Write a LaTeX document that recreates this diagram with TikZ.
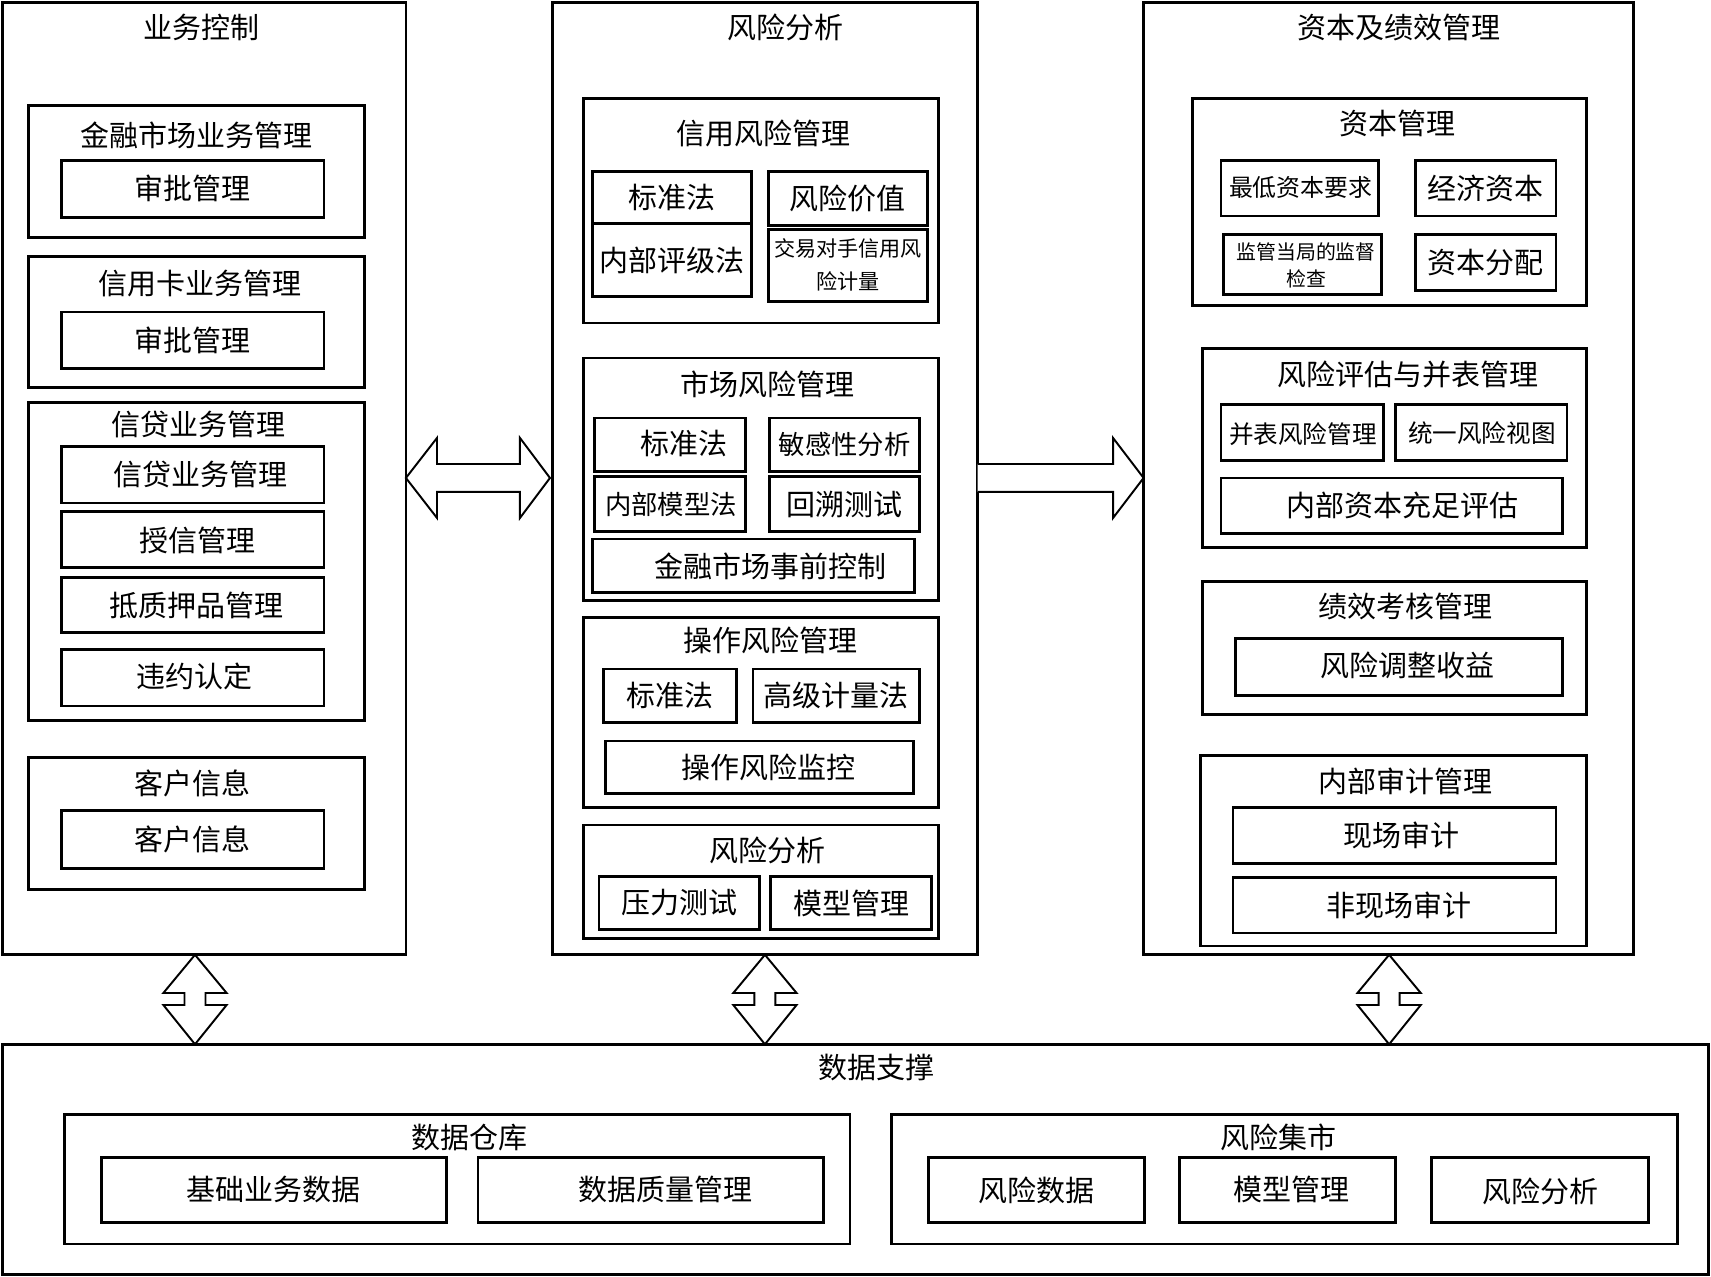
\documentclass[tikz,border=0pt]{standalone}
\usepackage{fontspec}
\setmainfont{Noto Sans CJK SC}
\tikzset{
  boxline/.style={draw=black, line width=1.6pt},
  txt/.style={inner sep=0pt, font=\fontsize{16.5}{18}\selectfont},
  small/.style={inner sep=0pt, align=center, font=\fontsize{12}{18.6}\selectfont},
  blockarrow/.style={draw=black, fill=white, line width=1.1pt, line join=miter},
}
% #1 name, #2 x1, #3 y1, #4 x2, #5 y2, #6 text
\newcommand\ibox[6]{\draw[boxline] (#2,#3) rectangle (#4,#5);
  \node[txt] (#1) at ({(#2+#4)/2},{(#3+#5)/2}) {#6};}
\newcommand\gbox[4]{\draw[boxline] (#1,#2) rectangle (#3,#4);}
\begin{document}
\begin{tikzpicture}[x=0.021824cm, y=-0.021824cm]
\useasboundingbox (0,0) rectangle (1568,1170);
\fill[white] (0,0) rectangle (1568,1170);

% ---------- outer columns ----------
\gbox{2}{2}{372}{875}
\gbox{506}{2}{896}{875}
\gbox{1048}{2}{1497}{875}
\gbox{2}{957}{1566}{1168}
\node[txt] (t1) at (185,25) {业务控制};
\node[txt] (t2) at (720,25) {风险分析};
\node[txt] (t3) at (1282,25) {资本及绩效管理};
\node[txt] (t4) at (803,978) {数据支撑};

% ---------- left column ----------
\gbox{26}{97}{334}{218}
\node[txt] (l1) at (180,124) {金融市场业务管理};
\ibox{l1a}{56}{147}{297}{199}{审批管理}
\gbox{26}{235}{334}{355}
\node[txt] (l2) at (183,260) {信用卡业务管理};
\ibox{l2a}{56}{286}{297}{338}{审批管理}
\gbox{26}{369}{334}{660}
\node[txt] (l3) at (182,389) {信贷业务管理};
\draw[boxline] (56,409) rectangle (297,461); \node[txt] (l3a) at (184,435) {信贷业务管理};
\draw[boxline] (56,469) rectangle (297,520); \node[txt] (l3b) at (181,495) {授信管理};
\draw[boxline] (56,529) rectangle (297,580); \node[txt] (l3c) at (180,555) {抵质押品管理};
\draw[boxline] (56,595) rectangle (297,647); \node[txt] (l3d) at (178,620) {违约认定};
\gbox{26}{694}{334}{815}
\node[txt] (l4) at (176,718) {客户信息};
\ibox{l4a}{56}{743}{297}{796}{客户信息}

% ---------- middle column ----------
\gbox{535}{90}{860}{296}
\node[txt] (m1) at (700,122) {信用风险管理};
\ibox{m1a}{543}{157}{689}{205}{标准法}
\ibox{m1b}{543}{205}{689}{272}{内部评级法}
\ibox{m1c}{704}{157}{850}{207}{风险价值}
\draw[boxline] (704,210) rectangle (850,276);
\node[small] (m1d) at (777,243) {交易对手信用风\\险计量};
\gbox{535}{328}{860}{550}
\node[txt] (m2) at (703,352) {市场风险管理};
\draw[boxline] (545,383) rectangle (683,432); \node[txt] (m2a) at (627,406) {标准法};
\draw[boxline] (705,383) rectangle (843,432);
\node[txt, font=\fontsize{15}{17}\selectfont] (m2b) at (774,407) {敏感性分析};
\draw[boxline] (545,437) rectangle (683,487);
\node[txt, font=\fontsize{15}{17}\selectfont] (m2c) at (615,462) {内部模型法};
\ibox{m2d}{705}{437}{843}{487}{回溯测试}
\draw[boxline] (543,494) rectangle (838,543); \node[txt] (m2e) at (706,519) {金融市场事前控制};
\gbox{535}{566}{860}{740}
\node[txt] (m3) at (706,587) {操作风险管理};
\ibox{m3a}{553}{613}{675}{662}{标准法}
\ibox{m3b}{690}{613}{843}{662}{高级计量法}
\draw[boxline] (555,679) rectangle (837,727); \node[txt] (m3c) at (704,703) {操作风险监控};
\gbox{535}{756}{860}{860}
\node[txt] (m4) at (703,779) {风险分析};
\ibox{m4a}{549}{803}{696}{852}{压力测试}
\ibox{m4b}{706}{803}{854}{852}{模型管理}

% ---------- right column ----------
\gbox{1093}{90}{1454}{280}
\node[txt] (r1) at (1281,113) {资本管理};
\draw[boxline] (1119,147) rectangle (1263,198);
\node[txt, font=\fontsize{13.6}{16}\selectfont] (r1a) at (1192,172) {最低资本要求};
\ibox{r1b}{1297}{147}{1426}{198}{经济资本}
\draw[boxline] (1121,215) rectangle (1266,270);
\node[small, font=\fontsize{11.3}{15.5}\selectfont] (r1c) at (1197,243) {监管当局的监督\\检查};
\ibox{r1d}{1297}{215}{1426}{266}{资本分配}
\gbox{1102}{319}{1454}{502}
\node[txt] (r2) at (1290,343) {风险评估与并表管理};
\draw[boxline] (1119,371) rectangle (1268,422);
\node[txt, font=\fontsize{14}{16}\selectfont] (r2a) at (1194,398) {并表风险管理};
\draw[boxline] (1279,371) rectangle (1436,422);
\node[txt, font=\fontsize{14}{16}\selectfont] (r2b) at (1358,397) {统一风险视图};
\draw[boxline] (1119,438) rectangle (1432,489); \node[txt] (r2c) at (1285,463) {内部资本充足评估};
\gbox{1102}{533}{1454}{655}
\node[txt] (r3) at (1288,556) {绩效考核管理};
\draw[boxline] (1132,585) rectangle (1432,637); \node[txt] (r3a) at (1290,610) {风险调整收益};
\gbox{1100}{692}{1454}{867}
\node[txt] (r4) at (1288,716) {内部审计管理};
\draw[boxline] (1130,740) rectangle (1426,791); \node[txt] (r4a) at (1284,766) {现场审计};
\draw[boxline] (1130,804) rectangle (1426,855); \node[txt] (r4b) at (1282,830) {非现场审计};

% ---------- bottom ----------
\gbox{59}{1021}{779}{1140}
\node[txt] (b1) at (430,1042) {数据仓库};
\ibox{b1a}{93}{1061}{409}{1120}{基础业务数据}
\draw[boxline] (438,1061) rectangle (755,1120); \node[txt] (b1b) at (610,1090) {数据质量管理};
\gbox{817}{1021}{1537}{1140}
\node[txt] (b2) at (1172,1042) {风险集市};
\ibox{b2a}{851}{1061}{1049}{1120}{风险数据}
\draw[boxline] (1081,1061) rectangle (1279,1120); \node[txt] (b2b) at (1184,1090) {模型管理};
\draw[boxline] (1312,1061) rectangle (1511,1120); \node[txt] (b2c) at (1412,1092) {风险分析};

% ---------- block arrows ----------
\coordinate (hL) at (372,438);
\coordinate (hR) at (504,438);
\draw[blockarrow] (hL) -- ++(28.5,-36.7) -- ++(0,23.9) -- ++(76,0) -- ++(0,-23.9)
  -- (hR) -- ++(-27.5,36.7) -- ++(0,-23.9) -- ++(-76,0) -- ++(0,23.9) -- cycle;

\coordinate (aT) at (896,438);
\coordinate (aH) at (1048,438);
\draw[blockarrow] (aT) ++(0,-12.8) -- ++(124,0) -- ++(0,-23.9) -- (aH)
  -- ++(-28,36.7) -- ++(0,-23.9) -- ++(-124,0);

\foreach \cx/\nm in {178.7/vA, 701/vB, 1273/vC}{
  \coordinate (\nm) at (\cx,875);
  \draw[blockarrow] (\nm) -- ++(-29,35) -- ++(19.4,0) -- ++(0,11) -- ++(-19.4,0)
    -- ++(29,36) -- ++(29,-36) -- ++(-19.4,0) -- ++(0,-11) -- ++(19.4,0) -- cycle;
}
\end{tikzpicture}
\end{document}
